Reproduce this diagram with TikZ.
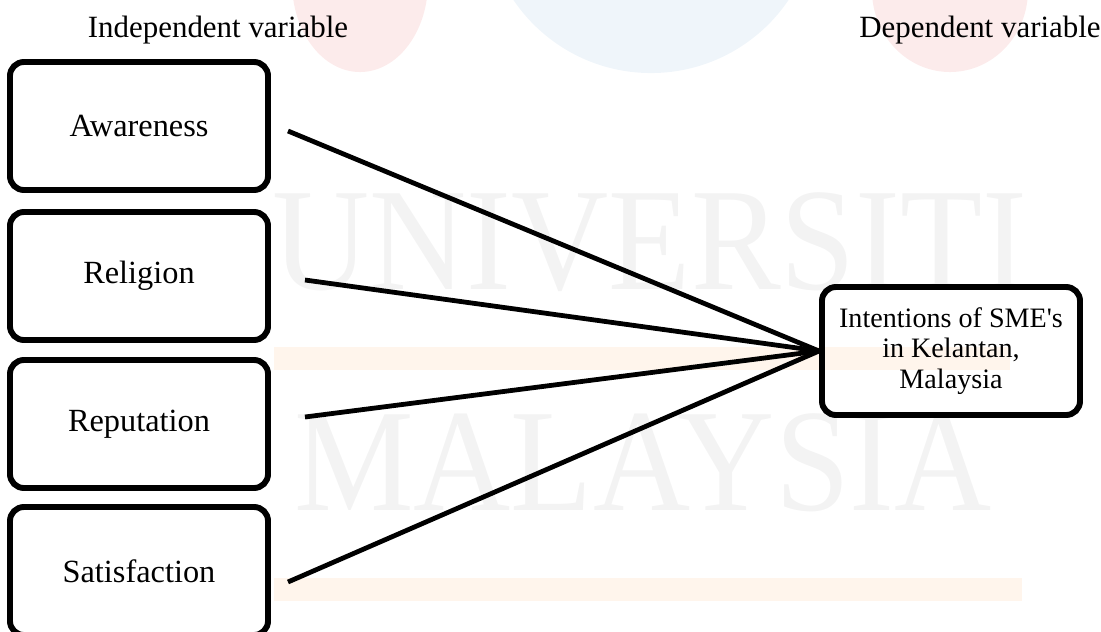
\documentclass[tikz,border=0pt]{standalone}
\usepackage{fontspec}
\setmainfont{Liberation Serif}
\definecolor{wmpink}{HTML}{FCEBEB}
\definecolor{wmblue}{HTML}{EFF5FA}
\definecolor{wmorange}{HTML}{FFF5EC}
\definecolor{wmgrey}{HTML}{F3F3F3}
\begin{document}
\begin{tikzpicture}[x=0.025cm,y=-0.025cm,
    varbox/.style={draw,line width=4.2pt,rounded corners=0.35cm,
      minimum width=6.45cm,minimum height=3.2cm,
      font=\fontsize{23}{26}\selectfont},
    intentbox/.style={draw,line width=4.2pt,rounded corners=0.35cm,
      minimum width=6.45cm,minimum height=3.2cm,align=center,
      font=\fontsize{20}{21.5}\selectfont},
    heading/.style={font=\fontsize{22}{24}\selectfont},
    mark text/.style={text=wmgrey,inner sep=0pt,
      font=\fontsize{104}{104}\selectfont,xscale=0.92},
    link/.style={line width=3.4pt}]
\useasboundingbox (0,0) rectangle (1101,632);
\fill [wmpink] (360,-18) ellipse [x radius=1.7cm, y radius=2.25cm];
\fill [wmblue] (651,-93) circle [radius=4.15cm];
\fill [wmpink] (950,-10) ellipse [x radius=1.95cm, y radius=2.05cm];
\fill [wmorange] (274,347) rectangle (1010,370);
\fill [wmorange] (274,578) rectangle (1022,601);
\node [mark text] (wm1) at (650,242) {UNIVERSITI};
\node [mark text] (wm2) at (643,463) {MALAYSIA};
\node [heading] (indep) at (218,30) {Independent variable};
\node [heading] (dep) at (980,30) {Dependent variable};
\node [varbox] (aw) at (139,126) {Awareness};
\node [varbox] (re) at (139,276) {Religion};
\node [varbox] (rp) at (139,424) {Reputation};
\node [varbox] (sa) at (139,571) {Satisfaction};
\node [intentbox] (in) at (951,351) {Intentions of SME\textquotesingle s\\in Kelantan,\\Malaysia};
\coordinate (aw-end) at (288,131);
\coordinate (re-end) at (305,280);
\coordinate (rp-end) at (305,417);
\coordinate (sa-end) at (288,582);
\draw [link] (aw-end) -- (in.west);
\draw [link] (re-end) -- (in.west);
\draw [link] (rp-end) -- (in.west);
\draw [link] (sa-end) -- (in.west);
\end{tikzpicture}
\end{document}
